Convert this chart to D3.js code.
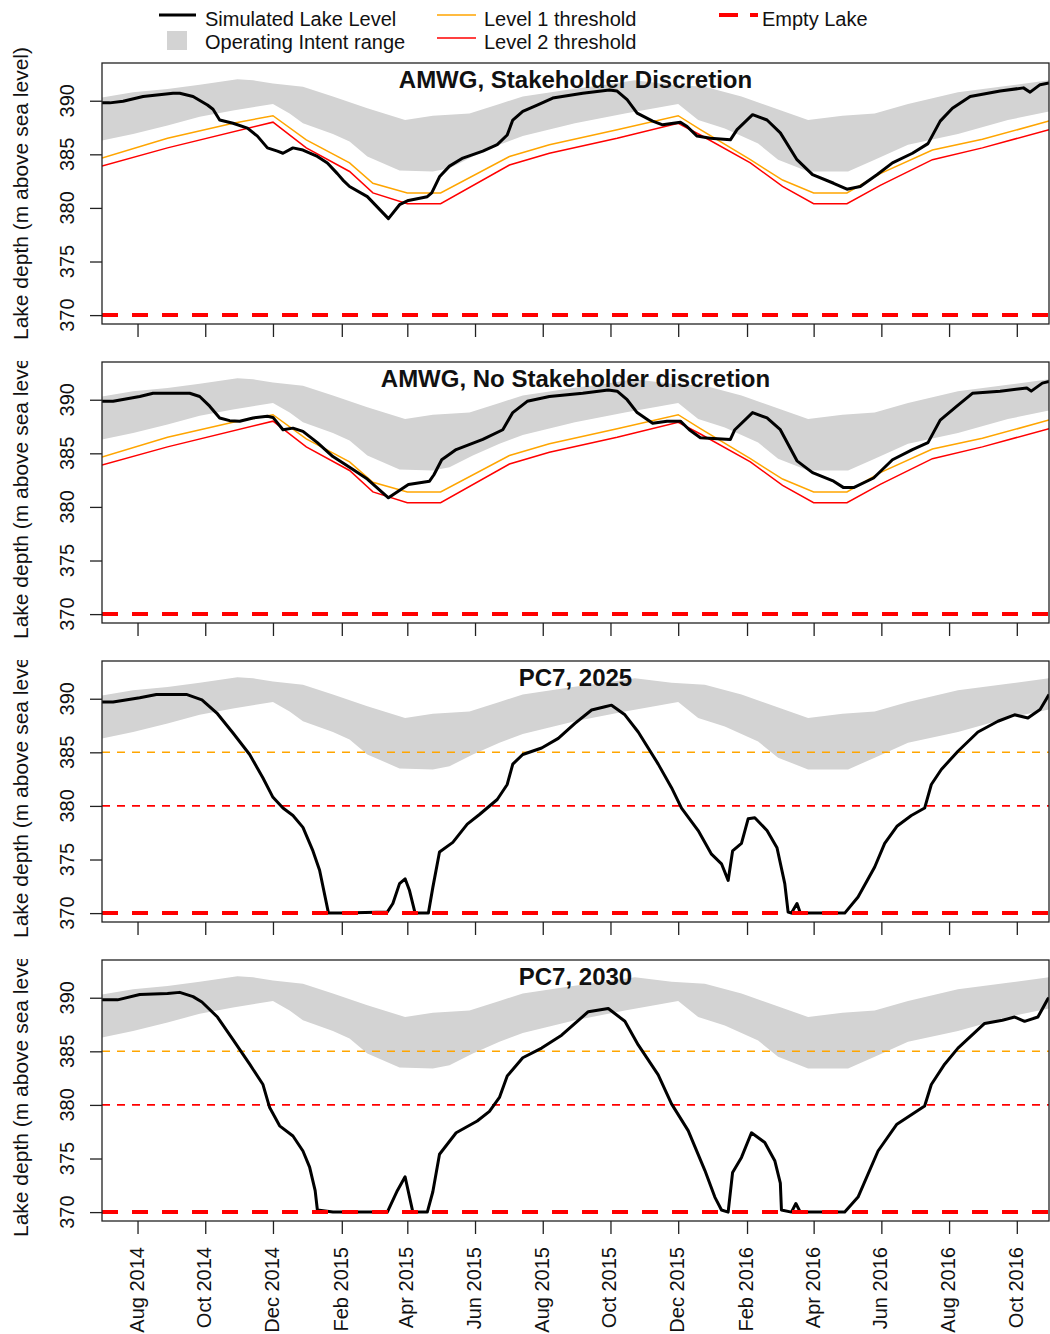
<!DOCTYPE html>
<html><head><meta charset="utf-8">
<script src="https://cdn.jsdelivr.net/npm/d3@7"></script>
<style>body{margin:0;background:#fff} svg{display:block} text{font-family:"Liberation Sans",Arial,sans-serif;fill:#111}</style>
</head><body><svg id="c" width="1050" height="1334"></svg>
<script>
// ---------- data ----------
const panelTitles = ["AMWG, Stakeholder Discretion","AMWG, No Stakeholder discretion","PC7, 2025","PC7, 2030"];
const yTicks = [370,375,380,385,390];
const xTickDates = ["2014-08-01","2014-10-01","2014-12-01","2015-02-01","2015-04-01","2015-06-01","2015-08-01","2015-10-01","2015-12-01","2016-02-01","2016-04-01","2016-06-01","2016-08-01","2016-10-01"];
const xTickLabels = ["Aug 2014","Oct 2014","Dec 2014","Feb 2015","Apr 2015","Jun 2015","Aug 2015","Oct 2015","Dec 2015","Feb 2016","Apr 2016","Jun 2016","Aug 2016","Oct 2016"];
const legendLabels = ["Simulated Lake Level","Operating Intent range","Level 1 threshold","Level 2 threshold","Empty Lake"];
const dateDomain = ["2014-06-30","2016-10-30"];

const bandUpper = [["2014-06-30",390.3],["2014-07-28",390.8],["2014-08-28",391.1],["2014-09-26",391.5],["2014-10-30",392.0],["2014-11-13",391.9],["2014-12-01",391.6],["2014-12-28",391.3],["2015-01-24",390.4],["2015-02-24",389.3],["2015-03-30",388.2],["2015-04-24",388.6],["2015-05-27",388.8],["2015-06-23",389.7],["2015-07-14",390.4],["2015-08-28",391.1],["2015-09-26",391.5],["2015-10-23",391.9],["2015-11-25",391.5],["2015-12-25",391.3],["2016-01-27",390.4],["2016-02-26",389.3],["2016-03-27",388.2],["2016-04-27",388.6],["2016-05-26",388.8],["2016-06-25",389.7],["2016-08-09",390.8],["2016-09-23",391.4],["2016-10-30",391.9]];
const bandLower = [["2014-06-30",386.3],["2014-07-28",386.9],["2014-08-28",387.7],["2014-09-26",388.5],["2014-10-26",389.1],["2014-12-01",389.7],["2014-12-16",388.8],["2014-12-28",387.9],["2015-01-24",386.9],["2015-02-08",386.2],["2015-02-24",384.8],["2015-03-25",383.5],["2015-04-24",383.4],["2015-05-09",383.7],["2015-05-30",384.8],["2015-06-23",385.9],["2015-07-14",386.7],["2015-08-30",387.9],["2015-10-14",388.8],["2015-12-01",389.7],["2015-12-19",388.2],["2016-01-12",387.4],["2016-02-11",386.0],["2016-02-29",384.5],["2016-03-27",383.4],["2016-05-02",383.4],["2016-05-26",384.5],["2016-06-25",385.9],["2016-08-09",386.9],["2016-09-23",388.2],["2016-10-30",389.0]];

const level1 = [["2014-06-30",384.65],["2014-08-28",386.5],["2014-10-26",387.9],["2014-12-01",388.6],["2014-12-31",386.35],["2015-02-08",384.2],["2015-03-01",382.3],["2015-04-01",381.4],["2015-05-01",381.4],["2015-07-02",384.8],["2015-08-07",385.9],["2015-10-07",387.3],["2015-12-01",388.6],["2015-12-21",387.3],["2016-02-04",384.5],["2016-03-04",382.6],["2016-04-01",381.4],["2016-05-01",381.4],["2016-05-31",383.2],["2016-07-17",385.4],["2016-08-31",386.4],["2016-10-30",388.1]];
const level2 = [["2014-06-30",383.9],["2014-08-28",385.6],["2014-12-01",388.0],["2014-12-31",385.6],["2015-02-08",383.4],["2015-03-01",381.4],["2015-04-01",380.4],["2015-05-01",380.4],["2015-07-02",384.0],["2015-08-07",385.1],["2015-10-07",386.5],["2015-12-01",387.9],["2015-12-21",386.8],["2016-02-04",384.2],["2016-03-04",382.0],["2016-04-01",380.4],["2016-05-01",380.4],["2016-05-31",382.1],["2016-07-17",384.5],["2016-08-31",385.6],["2016-10-30",387.3]];
const level1Fixed = 385, level2Fixed = 380, emptyLake = 370;

const simAMWG_SD = [["2014-06-30",389.8],["2014-07-07",389.8],["2014-07-19",389.95],["2014-08-06",390.4],["2014-09-02",390.7],["2014-09-08",390.7],["2014-09-20",390.4],["2014-10-03",389.6],["2014-10-08",389.2],["2014-10-14",388.2],["2014-10-26",387.9],["2014-11-08",387.45],["2014-11-17",386.7],["2014-11-26",385.6],["2014-12-05",385.3],["2014-12-10",385.1],["2014-12-19",385.6],["2014-12-28",385.4],["2015-01-10",384.8],["2015-01-19",384.2],["2015-01-28",383.2],["2015-02-02",382.6],["2015-02-08",382.0],["2015-02-24",381.05],["2015-03-15",379.0],["2015-03-25",380.3],["2015-04-02",380.7],["2015-04-19",381.05],["2015-04-23",381.4],["2015-04-30",382.9],["2015-05-09",383.9],["2015-05-21",384.65],["2015-06-08",385.3],["2015-06-21",385.9],["2015-06-30",386.8],["2015-07-05",388.2],["2015-07-14",389.0],["2015-07-27",389.6],["2015-08-10",390.25],["2015-09-06",390.7],["2015-09-30",391.0],["2015-10-07",390.9],["2015-10-16",390.1],["2015-10-25",388.85],["2015-11-08",388.1],["2015-11-17",387.75],["2015-12-03",388.0],["2015-12-09",387.6],["2015-12-18",386.7],["2015-12-30",386.5],["2016-01-17",386.35],["2016-01-23",387.3],["2016-02-06",388.7],["2016-02-19",388.2],["2016-03-02",387.0],["2016-03-17",384.5],["2016-03-31",383.1],["2016-04-19",382.3],["2016-05-01",381.75],["2016-05-13",382.0],["2016-05-28",383.1],["2016-06-11",384.2],["2016-06-29",385.1],["2016-07-13",386.0],["2016-07-24",388.1],["2016-08-04",389.3],["2016-08-20",390.4],["2016-09-16",390.9],["2016-10-07",391.2],["2016-10-13",390.8],["2016-10-22",391.5],["2016-10-30",391.65]];
const simAMWG_NSD = [["2014-06-30",389.85],["2014-07-10",389.85],["2014-08-03",390.3],["2014-08-15",390.6],["2014-09-17",390.6],["2014-09-26",390.3],["2014-10-05",389.4],["2014-10-14",388.3],["2014-10-23",388.05],["2014-11-01",388.0],["2014-11-13",388.3],["2014-11-26",388.45],["2014-12-01",388.35],["2014-12-10",387.2],["2014-12-19",387.35],["2014-12-28",387.05],["2015-01-10",386.0],["2015-01-24",384.7],["2015-02-08",383.7],["2015-02-24",382.6],["2015-03-15",380.85],["2015-04-02",382.1],["2015-04-21",382.4],["2015-04-25",383.0],["2015-05-02",384.4],["2015-05-15",385.35],["2015-06-08",386.3],["2015-06-26",387.2],["2015-07-05",388.8],["2015-07-18",389.85],["2015-08-07",390.3],["2015-09-06",390.6],["2015-09-29",390.9],["2015-10-07",390.8],["2015-10-16",390.0],["2015-10-25",388.8],["2015-11-08",387.8],["2015-11-21",388.0],["2015-12-03",388.0],["2015-12-11",387.2],["2015-12-21",386.45],["2016-01-17",386.3],["2016-01-21",387.2],["2016-02-06",388.8],["2016-02-19",388.3],["2016-03-02",387.2],["2016-03-17",384.3],["2016-03-31",383.2],["2016-04-19",382.4],["2016-04-28",381.8],["2016-05-07",381.8],["2016-05-25",382.7],["2016-06-11",384.4],["2016-06-29",385.35],["2016-07-13",386.0],["2016-07-24",388.1],["2016-08-08",389.4],["2016-08-22",390.6],["2016-09-16",390.8],["2016-10-10",391.1],["2016-10-14",390.8],["2016-10-24",391.55],["2016-10-30",391.7]];
const simPC7_2025 = [["2014-06-30",389.7],["2014-07-10",389.7],["2014-08-03",390.1],["2014-08-18",390.4],["2014-09-14",390.4],["2014-09-28",389.9],["2014-10-12",388.6],["2014-10-26",386.8],["2014-11-10",384.8],["2014-11-22",382.6],["2014-12-01",380.8],["2014-12-10",379.8],["2014-12-19",379.1],["2014-12-28",378.0],["2015-01-06",375.8],["2015-01-12",374.0],["2015-01-20",370.0],["2015-02-02",370.0],["2015-03-14",370.1],["2015-03-19",370.9],["2015-03-25",372.75],["2015-03-30",373.2],["2015-04-03",372.1],["2015-04-08",370.0],["2015-04-20",370.0],["2015-04-24",372.4],["2015-04-30",375.7],["2015-05-12",376.6],["2015-05-25",378.3],["2015-06-05",379.2],["2015-06-21",380.6],["2015-06-30",382.0],["2015-07-05",383.9],["2015-07-14",384.8],["2015-07-31",385.4],["2015-08-15",386.3],["2015-08-30",387.7],["2015-09-14",388.95],["2015-09-26",389.25],["2015-10-02",389.4],["2015-10-14",388.5],["2015-10-26",386.9],["2015-11-13",383.9],["2015-11-25",381.7],["2015-12-04",379.8],["2015-12-19",377.7],["2015-12-31",375.5],["2016-01-09",374.6],["2016-01-15",373.05],["2016-01-19",375.8],["2016-01-27",376.5],["2016-02-02",378.8],["2016-02-08",378.9],["2016-02-19",377.7],["2016-02-28",376.1],["2016-03-06",372.75],["2016-03-09",370.1],["2016-03-12",370.0],["2016-03-17",370.9],["2016-03-20",370.0],["2016-04-29",370.0],["2016-05-11",371.5],["2016-05-26",374.3],["2016-06-04",376.5],["2016-06-15",378.1],["2016-06-28",379.1],["2016-07-10",379.8],["2016-07-16",382.0],["2016-07-25",383.4],["2016-08-09",385.1],["2016-08-27",386.9],["2016-09-14",387.9],["2016-09-29",388.5],["2016-10-11",388.2],["2016-10-22",389.0],["2016-10-30",390.4]];
const simPC7_2030 = [["2014-06-30",389.8],["2014-07-14",389.8],["2014-08-03",390.3],["2014-08-28",390.4],["2014-09-08",390.5],["2014-09-20",390.1],["2014-09-28",389.6],["2014-10-12",388.2],["2014-10-26",386.1],["2014-11-10",383.8],["2014-11-22",381.9],["2014-11-28",379.75],["2014-12-07",378.05],["2014-12-19",377.1],["2014-12-28",375.7],["2015-01-03",374.2],["2015-01-08",372.0],["2015-01-10",370.2],["2015-01-24",370.0],["2015-03-14",370.0],["2015-03-23",372.0],["2015-03-30",373.3],["2015-04-06",370.0],["2015-04-19",370.0],["2015-04-24",371.9],["2015-04-30",375.4],["2015-05-15",377.4],["2015-06-03",378.5],["2015-06-14",379.4],["2015-06-23",380.7],["2015-06-30",382.7],["2015-07-14",384.4],["2015-07-31",385.3],["2015-08-18",386.5],["2015-09-11",388.7],["2015-09-29",389.0],["2015-10-14",387.8],["2015-10-26",385.6],["2015-11-13",382.8],["2015-11-25",380.1],["2015-12-10",377.6],["2015-12-25",373.9],["2016-01-03",371.4],["2016-01-09",370.2],["2016-01-15",370.0],["2016-01-19",373.7],["2016-01-27",375.1],["2016-02-05",377.4],["2016-02-17",376.5],["2016-02-26",374.8],["2016-03-02",372.7],["2016-03-03",370.2],["2016-03-12",370.0],["2016-03-16",370.8],["2016-03-20",370.0],["2016-04-29",370.0],["2016-05-11",371.4],["2016-05-29",375.7],["2016-06-15",378.2],["2016-07-10",379.9],["2016-07-16",381.9],["2016-07-28",383.8],["2016-08-09",385.3],["2016-09-02",387.6],["2016-09-18",387.9],["2016-09-29",388.2],["2016-10-08",387.8],["2016-10-20",388.2],["2016-10-29",389.9],["2016-10-30",390.0]];

// ---------- drawing ----------
const parse = d3.utcParse("%Y-%m-%d");
const svg = d3.select("#c");
const C = {band:"#d3d3d3", l1:"#ffa500", l2:"#ff0000", sim:"#000", axis:"#222"};
const L = 102, R = 1049, H = 261;
const panelTops = [63, 362, 661, 960];
const x = d3.scaleUtc().domain(dateDomain.map(parse)).range([L, R]);
const sims = [simAMWG_SD, simAMWG_NSD, simPC7_2025, simPC7_2030];

panelTops.forEach((top, i) => {
  const y = d3.scaleLinear().domain([369.17, 393.52]).range([top + H, top]);
  const g = svg.append("g");
  const cid = "clip" + i;
  svg.append("clipPath").attr("id", cid).append("rect").attr("x", L).attr("y", top).attr("width", R - L).attr("height", H);
  const plot = g.append("g").attr("clip-path", `url(#${cid})`);
  const line = d3.line().x(d => x(parse(d[0]))).y(d => y(d[1]));

  // band polygon
  const poly = bandUpper.concat(bandLower.slice().reverse());
  plot.append("path").attr("d", line(poly) + "Z").attr("fill", C.band).attr("stroke", "none");

  if (i < 2) {
    plot.append("path").attr("d", line(level1)).attr("fill", "none").attr("stroke", C.l1).attr("stroke-width", 1.5);
    plot.append("path").attr("d", line(level2)).attr("fill", "none").attr("stroke", C.l2).attr("stroke-width", 1.5);
  } else {
    const dom = x.domain();
    plot.append("line").attr("x1", x(dom[0])).attr("x2", x(dom[1])).attr("y1", y(level1Fixed)).attr("y2", y(level1Fixed))
      .attr("stroke", C.l1).attr("stroke-width", 1.6).attr("stroke-dasharray", "8,7");
    plot.append("line").attr("x1", x(dom[0])).attr("x2", x(dom[1])).attr("y1", y(level2Fixed)).attr("y2", y(level2Fixed))
      .attr("stroke", C.l2).attr("stroke-width", 1.8).attr("stroke-dasharray", "8,7");
  }
  plot.append("path").attr("d", line(sims[i])).attr("fill", "none").attr("stroke", C.sim).attr("stroke-width", 3).attr("stroke-linejoin", "round");
  const dom = x.domain();
  plot.append("line").attr("x1", x(dom[0])).attr("x2", x(dom[1])).attr("y1", y(emptyLake)).attr("y2", y(emptyLake))
    .attr("stroke", C.l2).attr("stroke-width", 4).attr("stroke-dasharray", "16,14");

  // box
  g.append("rect").attr("x", L).attr("y", top).attr("width", R - L).attr("height", H)
    .attr("fill", "none").attr("stroke", C.axis).attr("stroke-width", 1.3);

  // y axis
  const ya = g.append("g").attr("transform", `translate(${L},0)`)
    .call(d3.axisLeft(y).tickValues(yTicks).tickSize(12).tickFormat(""));
  ya.select(".domain").remove();
  ya.selectAll("line").attr("stroke", C.axis).attr("stroke-width", 1.3);
  yTicks.forEach(v => {
    g.append("text").attr("transform", `translate(74,${y(v)}) rotate(-90)`).attr("text-anchor", "middle")
      .style("font-size", "20px").text(d3.format("d")(v));
  });

  // x axis ticks
  const xa = g.append("g").attr("transform", `translate(0,${top + H})`)
    .call(d3.axisBottom(x).tickValues(xTickDates.map(parse)).tickSize(13).tickFormat(""));
  xa.select(".domain").remove();
  xa.selectAll("line").attr("stroke", C.axis).attr("stroke-width", 1.3);
  if (i === 3) {
    xTickDates.forEach((d, k) => {
      g.append("text").attr("transform", `translate(${x(parse(d)) + 6},${top + H + 26}) rotate(-90)`)
        .attr("text-anchor", "end").style("font-size", "20px").text(xTickLabels[k]);
    });
  }

  // y label (clipped to figure region)
  const lid = "lclip" + i;
  svg.append("clipPath").attr("id", lid).append("rect").attr("x", 0).attr("y", i === 0 ? 0 : top - 1).attr("width", 60).attr("height", 400);
  g.append("g").attr("clip-path", `url(#${lid})`).append("text")
    .attr("transform", `translate(28,${top + H / 2}) rotate(-90)`).attr("text-anchor", "middle")
    .style("font-size", "21px").text("Lake depth (m above sea level)");

  // title
  g.append("text").attr("x", (L + R) / 2).attr("y", top + 25).attr("text-anchor", "middle")
    .style("font-size", "24px").style("font-weight", "bold").text(panelTitles[i]);
});

// ---------- legend ----------
const lg = svg.append("g");
lg.append("line").attr("x1", 159).attr("x2", 196).attr("y1", 15).attr("y2", 15).attr("stroke", C.sim).attr("stroke-width", 3);
lg.append("rect").attr("x", 167).attr("y", 31).attr("width", 20).attr("height", 19).attr("fill", C.band);
lg.append("line").attr("x1", 437).attr("x2", 476).attr("y1", 15).attr("y2", 15).attr("stroke", C.l1).attr("stroke-width", 1.5);
lg.append("line").attr("x1", 437).attr("x2", 476).attr("y1", 38).attr("y2", 38).attr("stroke", C.l2).attr("stroke-width", 1.5);
lg.append("line").attr("x1", 719).attr("x2", 758).attr("y1", 15).attr("y2", 15).attr("stroke", C.l2).attr("stroke-width", 4).attr("stroke-dasharray", "19,12");
const lt = [[205,26,0],[205,49,1],[484,26,2],[484,49,3],[762,26,4]];
lt.forEach(([tx, ty, k]) => lg.append("text").attr("x", tx).attr("y", ty).style("font-size", "20px").text(legendLabels[k]));
</script></body></html>
